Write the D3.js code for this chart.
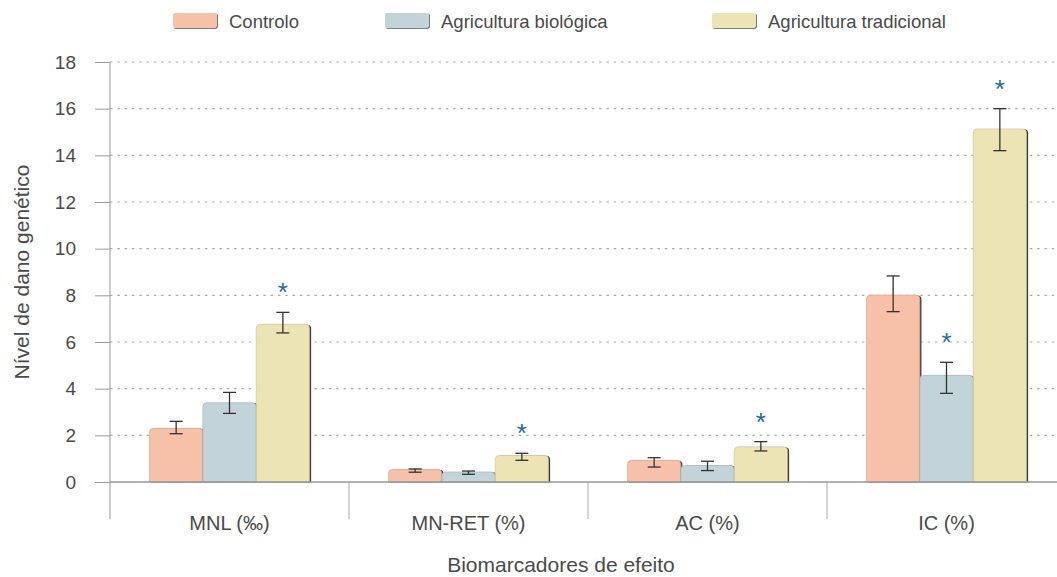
<!DOCTYPE html>
<html>
<head>
<meta charset="utf-8">
<script src="https://cdn.jsdelivr.net/npm/d3@7"></script>
<style>
    body { margin: 0; background: #fff; }
    text { font-family: "Liberation Sans", Arial, sans-serif; fill: #4a4a4a; }
</style>
</head>
<body>
<div id="chart"></div>
<script>
// data
const categories = ["MNL (‰)", "MN-RET (%)", "AC (%)", "IC (%)"];
const seriesNames = ["Controlo", "Agricultura biológica", "Agricultura tradicional"];
const controlo = [2.30, 0.54, 0.93, 8.01];
const controloLow = [2.07, 0.42, 0.64, 7.30];
const controloHigh = [2.60, 0.56, 1.04, 8.83];
const biologica = [3.40, 0.43, 0.71, 4.57];
const biologicaLow = [2.94, 0.33, 0.49, 3.80];
const biologicaHigh = [3.84, 0.47, 0.89, 5.13];
const tradicional = [6.76, 1.14, 1.51, 15.13];
const tradicionalLow = [6.39, 0.93, 1.33, 14.20];
const tradicionalHigh = [7.27, 1.23, 1.73, 16.00];
// significance marks (*) per series and category
const starBiologica = [false, false, false, true];
const starTradicional = [true, true, true, true];
const yTicks = [0, 2, 4, 6, 8, 10, 12, 14, 16, 18];

const colors = ["#f7c0a8", "#c2d3da", "#ede4b6"];

const W = 1057, H = 577;
const plotLeft = 110, plotTop = 62, plotBottom = 482;

const svg = d3.select("#chart").append("svg")
    .attr("width", W)
    .attr("height", H);

let values = [controlo, biologica, tradicional];
let lows = [controloLow, biologicaLow, tradicionalLow];
let highs = [controloHigh, biologicaHigh, tradicionalHigh];
let stars = [categories.map(() => false), starBiologica, starTradicional];

let rows = [];
categories.forEach((c, ci) => {
    seriesNames.forEach((s, si) => {
        rows.push({ cat: c, series: s, si: si, v: values[si][ci], lo: lows[si][ci], hi: highs[si][ci], star: stars[si][ci] });
    });
});

let x0 = d3.scaleBand().domain(categories).range([plotLeft, plotLeft + 4 * 239]);
let x1 = d3.scaleBand().domain(seriesNames).range([0, x0.bandwidth()]).paddingOuter(0.74);
let y = d3.scaleLinear().domain([0, 18]).range([plotBottom, plotTop]);

// grid lines
svg.append("g")
    .selectAll("line")
    .data(yTicks.filter(d => d > 0))
    .enter()
    .append("line")
    .attr("x1", plotLeft)
    .attr("x2", W)
    .attr("y1", d => y(d))
    .attr("y2", d => y(d))
    .attr("stroke", "#aaa")
    .attr("stroke-width", 1.2)
    .attr("stroke-dasharray", "2.5,4.8");

// y axis
let yAxis = svg.append("g")
    .attr("transform", "translate(" + plotLeft + ",0)")
    .call(d3.axisLeft(y).tickValues(yTicks).tickSize(15).tickPadding(19).tickSizeOuter(0));
yAxis.select(".domain").remove();
yAxis.selectAll(".tick line").attr("stroke", "#999");
yAxis.selectAll(".tick text")
    .style("font-family", "Liberation Sans, Arial, sans-serif")
    .style("font-size", "19px")
    .attr("fill", "#4a4a4a");

svg.append("line")
    .attr("x1", plotLeft).attr("x2", plotLeft)
    .attr("y1", plotTop).attr("y2", 519)
    .attr("stroke", "#999");

// category separators
svg.append("g")
    .selectAll("line")
    .data(categories)
    .enter()
    .append("line")
    .attr("x1", d => x0(d) + x0.bandwidth())
    .attr("x2", d => x0(d) + x0.bandwidth())
    .attr("y1", plotBottom)
    .attr("y2", 519)
    .attr("stroke", "#aaa");

// bars
let bar = function (d) {
    let bx = x0(d.cat) + x1(d.series), bw = x1.bandwidth();
    let by = y(d.v), r = Math.min(4, (plotBottom - by) / 2);
    return "M" + bx + "," + plotBottom +
        "V" + (by + r) +
        "Q" + bx + "," + by + " " + (bx + r) + "," + by +
        "H" + (bx + bw - r) +
        "Q" + (bx + bw) + "," + by + " " + (bx + bw) + "," + (by + r) +
        "V" + plotBottom + "Z";
};

let bars = svg.append("g");
bars.selectAll(".shadow")
    .data(rows)
    .enter()
    .append("path")
    .attr("class", "shadow")
    .attr("d", bar)
    .attr("transform", "translate(1.6,0.4)")
    .attr("fill", "#3a3a3a");
bars.selectAll(".bar")
    .data(rows)
    .enter()
    .append("path")
    .attr("class", "bar")
    .attr("d", bar)
    .attr("fill", d => colors[d.si])
    .attr("stroke", d => d3.color(colors[d.si]).darker(0.5))
    .attr("stroke-width", 0.6);

// x axis line
svg.append("line")
    .attr("x1", plotLeft).attr("x2", W)
    .attr("y1", plotBottom).attr("y2", plotBottom)
    .attr("stroke", "#999")
    .attr("stroke-width", 1.5);

// error bars
let err = svg.append("g").attr("stroke", "#333").attr("stroke-width", 1.3);
rows.forEach(d => {
    let cx = x0(d.cat) + x1(d.series) + x1.bandwidth() / 2;
    err.append("line").attr("x1", cx).attr("x2", cx).attr("y1", y(d.lo)).attr("y2", y(d.hi));
    err.append("line").attr("x1", cx - 6.5).attr("x2", cx + 6.5).attr("y1", y(d.lo)).attr("y2", y(d.lo));
    err.append("line").attr("x1", cx - 6.5).attr("x2", cx + 6.5).attr("y1", y(d.hi)).attr("y2", y(d.hi));
});

// stars
svg.append("g")
    .selectAll("text")
    .data(rows.filter(d => d.star))
    .enter()
    .append("text")
    .attr("x", d => x0(d.cat) + x1(d.series) + x1.bandwidth() / 2)
    .attr("y", d => y(d.hi) - 26 + 15)
    .attr("text-anchor", "middle")
    .style("font-size", "26px")
    .style("fill", "#1f6a9c")
    .text("*");

// category labels
svg.append("g")
    .selectAll("text")
    .data(categories)
    .enter()
    .append("text")
    .attr("x", d => x0(d) + x0.bandwidth() / 2)
    .attr("y", 530)
    .attr("text-anchor", "middle")
    .style("font-size", "20px")
    .text(d => d);

// axis titles
svg.append("text")
    .attr("x", 561)
    .attr("y", 572)
    .attr("text-anchor", "middle")
    .style("font-size", "21px")
    .text("Biomarcadores de efeito");

svg.append("text")
    .attr("transform", "translate(29,272) rotate(-90)")
    .attr("text-anchor", "middle")
    .style("font-size", "21px")
    .text("Nível de dano genético");

// legend
let legendX = [173, 385, 712];
let legend = svg.append("g")
    .selectAll("g")
    .data(seriesNames)
    .enter()
    .append("g")
    .attr("transform", (d, i) => "translate(" + legendX[i] + ",13)");
legend.append("rect")
    .attr("x", 0.8).attr("y", 0.8)
    .attr("width", 44).attr("height", 15)
    .attr("rx", 2)
    .attr("fill", "#555");
legend.append("rect")
    .attr("width", 44).attr("height", 15)
    .attr("rx", 2)
    .attr("fill", (d, i) => colors[i]);
legend.append("text")
    .attr("x", 56)
    .attr("y", 15)
    .style("font-size", "18.5px")
    .text(d => d);
</script>
</body>
</html>
